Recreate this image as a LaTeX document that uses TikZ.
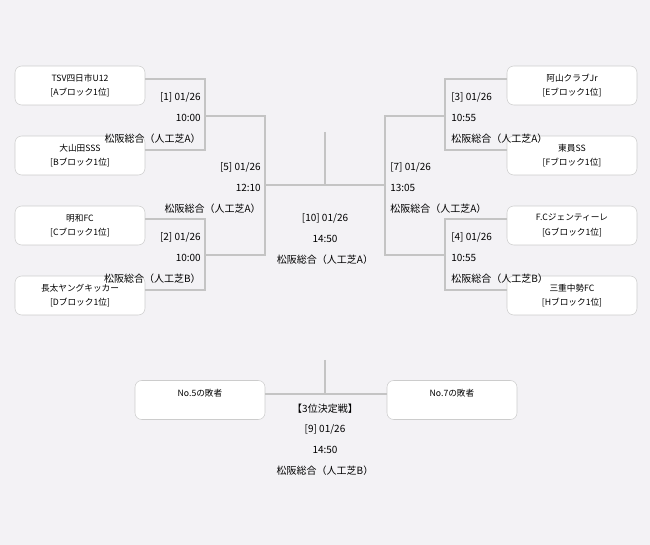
\documentclass[tikz,border=0pt]{standalone}
\usepackage{fontspec}
\newfontfamily\jpfont{Noto Sans CJK JP}
\definecolor{bgpaper}{HTML}{F3F2F5}
\definecolor{linegray}{HTML}{C4C4C4}
\definecolor{boxline}{HTML}{CCCCCC}
\tikzset{
  team/.style={draw=boxline,fill=white,rounded corners=5pt,minimum width=97.5pt,
    minimum height=29.25pt,align=center,inner sep=0pt,font=\jpfont\fontsize{6.5}{11}\selectfont},
  bracket/.style={draw=linegray,line width=1.5pt},
  info/.style={font=\jpfont\fontsize{7.5}{15.5}\selectfont,inner sep=0pt}
}
\begin{document}
\begin{tikzpicture}[x=0.75pt,y=-0.75pt]
  \fill[bgpaper] (0,0) rectangle (650,545);
  \useasboundingbox (0,0) rectangle (650,545);

  % teams, left side
  \node[team] (ta) at (80,85.5) {TSV四日市U12\\{}[Aブロック1位]};
  \node[team] (tb) at (80,155.5) {大山田SSS\\{}[Bブロック1位]};
  \node[team] (tc) at (80,225.5) {明和FC\\{}[Cブロック1位]};
  \node[team] (td) at (80,295.5) {長太ヤングキッカー\\{}[Dブロック1位]};
  % teams, right side
  \node[team] (te) at (572,85.5) {阿山クラブJr\\{}[Eブロック1位]};
  \node[team] (tf) at (572,155.5) {東員SS\\{}[Fブロック1位]};
  \node[team] (tg) at (572,225.5) {F.Cジェンティーレ\\{}[Gブロック1位]};
  \node[team] (th) at (572,295.5) {三重中勢FC\\{}[Hブロック1位]};
  % third place
  \node[team] (l5) at (200,400) {No.5の敗者\\ \mbox{}};
  \node[team] (l7) at (452,400) {No.7の敗者\\ \mbox{}};

  \coordinate (m1) at (205,116);
  \coordinate (m2) at (205,255);
  \coordinate (m3) at (445,116);
  \coordinate (m4) at (445,255);
  \coordinate (m5) at (265,185);
  \coordinate (m7) at (385,185);
  \coordinate (fin) at (325,132);
  \coordinate (third) at (325,360);

  % brackets
  \draw[bracket] (ta.east|-0,79) -| (m1) |- (tb.east|-0,150);
  \draw[bracket] (tc.east|-0,219) -| (m2) |- (td.east|-0,290);
  \draw[bracket] (te.west|-0,79) -| (m3) |- (tf.west|-0,150);
  \draw[bracket] (tg.west|-0,219) -| (m4) |- (th.west|-0,290);
  \draw[bracket] (m1) -| (m5) |- (m2);
  \draw[bracket] (m3) -| (m7) |- (m4);
  \draw[bracket] (m5) -- (m7);
  \draw[bracket] (fin) -- (fin|-m5);
  \draw[bracket] (l5.east|-0,394) -- (l7.west|-0,394);
  \draw[bracket] (third) -- (325,394);

  % match info
  \node[info,anchor=east,align=right] (g1) at (201,118) {{[1]} 01/26\\10:00\\松阪総合（人工芝A）};
  \node[info,anchor=east,align=right] (g2) at (201,258) {{[2]} 01/26\\10:00\\松阪総合（人工芝B）};
  \node[info,anchor=east,align=right] (g5) at (261,188) {{[5]} 01/26\\12:10\\松阪総合（人工芝A）};
  \node[info,anchor=west,align=left] (g3) at (451,118) {{[3]} 01/26\\10:55\\松阪総合（人工芝A）};
  \node[info,anchor=west,align=left] (g4) at (451,258) {{[4]} 01/26\\10:55\\松阪総合（人工芝B）};
  \node[info,anchor=west,align=left] (g7) at (390,188) {{[7]} 01/26\\13:05\\松阪総合（人工芝A）};
  \node[info,align=center] (g10) at (325,239) {{[10]} 01/26\\14:50\\松阪総合（人工芝A）};
  \node[info,align=center] (g9) at (325,439.5) {【3位決定戦】\\{}[9] 01/26\\14:50\\松阪総合（人工芝B）};
\end{tikzpicture}
\end{document}
